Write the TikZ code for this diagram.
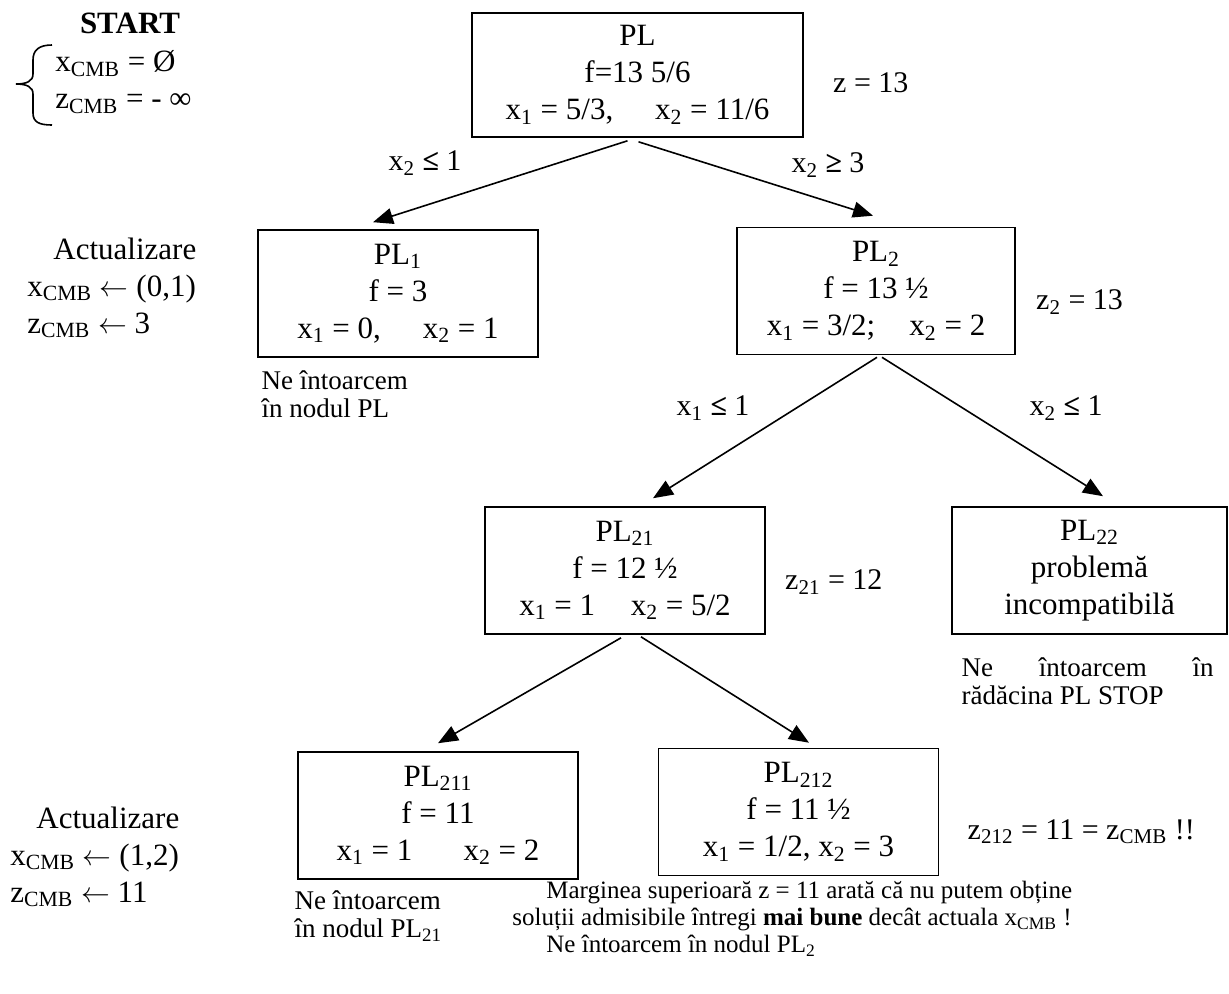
\documentclass[tikz,border=0pt]{standalone}
\usepackage{fontspec}
\setmainfont{Liberation Serif}
\usepackage{tikz}
\usetikzlibrary{arrows.meta,positioning}

\newcommand{\sub}[1]{\textsubscript{#1}}
\newcommand{\cmb}{\textsubscript{CMB}}

\begin{document}
\begin{tikzpicture}[
  x=0.5pt, y=-0.5pt,
  pbox/.style={draw, line width=0.8pt, align=center, inner sep=0pt,
               minimum width=140pt, minimum height=63.5pt,
               font=\fontsize{15.5}{18.5}\selectfont},
  lbl/.style={inner sep=0pt, font=\fontsize{15}{18}\selectfont},
  upd/.style={inner sep=0pt, align=left, font=\fontsize{15.5}{18.5}\selectfont},
  note/.style={inner sep=0pt, align=left, font=\fontsize{13.5}{14}\selectfont},
  arr/.style={-{Triangle[length=10pt, width=8pt]}, line width=0.8pt},
]
\useasboundingbox (0,0) rectangle (1229,993);

% subproblems
\node[pbox, minimum width=165.5pt, minimum height=62pt] (pl) at (637.5,75)
  {PL\\f=13 5/6\\x\sub{1} = 5/3,\hspace{1.1em} x\sub{2} = 11/6};
\node[pbox] (pl1) at (398,293.5)
  {PL\sub{1}\\f = 3\\x\sub{1} = 0,\hspace{1.1em} x\sub{2} = 1};
\node[pbox, minimum width=139pt] (pl2) at (876,291)
  {PL\sub{2}\\f = 13 ½\\x\sub{1} = 3/2;\hspace{0.85em} x\sub{2} = 2};
\node[pbox] (pl21) at (625,570.5)
  {PL\sub{21}\\f = 12 ½\\x\sub{1} = 1\hspace{0.9em} x\sub{2} = 5/2};
\node[pbox, minimum width=137.5pt] (pl22) at (1089.5,570.5)
  {PL\sub{22}\\problemă\\incompatibilă};
\node[pbox] (pl211) at (438,815.5)
  {PL\sub{211}\\f = 11\\x\sub{1} = 1\hspace{1.4em} x\sub{2} = 2};
\node[pbox] (pl212) at (798.5,812)
  {PL\sub{212}\\f = 11 ½\\x\sub{1} = 1/2, x\sub{2} = 3};

% bounds
\node[lbl, right=14.5pt of pl, yshift=-4pt] (z0) {z = 13};
\node[lbl, right=10pt of pl2, yshift=-5.5pt] (z2) {z\sub{2} = 13};
\node[lbl, right=9.5pt of pl21, yshift=-5.75pt] (z21) {z\sub{21} = 12};
\node[lbl, right=14pt of pl212, yshift=-10pt] (z212) {z\sub{212} = 11 = z\cmb{} !!};

% branching
\draw[arr] ([xshift=-5pt, yshift=-1.5pt]pl.south) -- ([xshift=-12.5pt, yshift=3.5pt]pl1.north);
\draw[arr] ([xshift=0.5pt, yshift=-2pt]pl.south) -- ([xshift=-1.5pt, yshift=5.5pt]pl2.north);
\draw[arr] ([xshift=0.5pt, yshift=-1pt]pl2.south) -- ([xshift=14pt, yshift=4pt]pl21.north);
\draw[arr] ([xshift=3pt, yshift=-1pt]pl2.south) -- ([xshift=6.75pt, yshift=5pt]pl22.north);
\draw[arr] ([xshift=-2pt, yshift=-1.5pt]pl21.south) -- ([yshift=4pt]pl211.north);
\draw[arr] ([xshift=8pt, yshift=-1pt]pl21.south) -- ([xshift=5.25pt, yshift=2.5pt]pl212.north);

\node[lbl] (c1) at (425,163) {x\sub{2} \textbf{≤} 1};
\node[lbl] (c2) at (828,165) {x\sub{2} \textbf{≥} 3};
\node[lbl] (c21) at (713,408) {x\sub{1} \textbf{≤} 1};
\node[lbl] (c22) at (1066,408) {x\sub{2} \textbf{≤} 1};

% start
\node[inner sep=0pt, font=\bfseries\fontsize{15.5}{18}\selectfont] (start) at (130,23) {START};
\node[upd, anchor=west] (init) at (55,82) {x\cmb{} = Ø\\z\cmb{} = - ∞};
\draw[line width=0.8pt] (52,45) .. controls (39,45) and (33,50) .. (33,60) -- (33,74)
  .. controls (33,81) and (27,84) .. (16,84) .. controls (27,84) and (33,87) .. (33,94)
  -- (33,113) .. controls (33,122) and (39,125) .. (52,125);

% updates
\node[upd, anchor=west] (up1) at (27,288)
  {\hspace*{13pt}Actualizare\\x\cmb{} $\leftarrow$ (0,1)\\z\cmb{} $\leftarrow$ 3};
\node[upd, anchor=west] (up2) at (10,857)
  {\hspace*{13pt}Actualizare\\x\cmb{} $\leftarrow$ (1,2)\\z\cmb{} $\leftarrow$ 11};

% notes
\node[note, below right=6pt and 2pt of pl1.south west] (n1) {Ne întoarcem\\în nodul PL};
\node[note, below right=11pt and 5pt of pl22.south west] (n2)
  {\makebox[126pt][s]{Ne întoarcem în}\\rădăcina PL STOP};
\node[note, below right=5pt and -1.5pt of pl211.south west] (n3) {Ne întoarcem\\în nodul PL\sub{21}};
\node[note, anchor=north west, font=\fontsize{12.5}{13.5}\selectfont] (n4) at (512,881)
  {\hspace*{17pt}Marginea superioară z = 11 arată că nu putem obține\\
   soluții admisibile întregi \textbf{mai bune} decât actuala x\cmb{} !\\
   \hspace*{17pt}Ne întoarcem în nodul PL\sub{2}};
\end{tikzpicture}
\end{document}
